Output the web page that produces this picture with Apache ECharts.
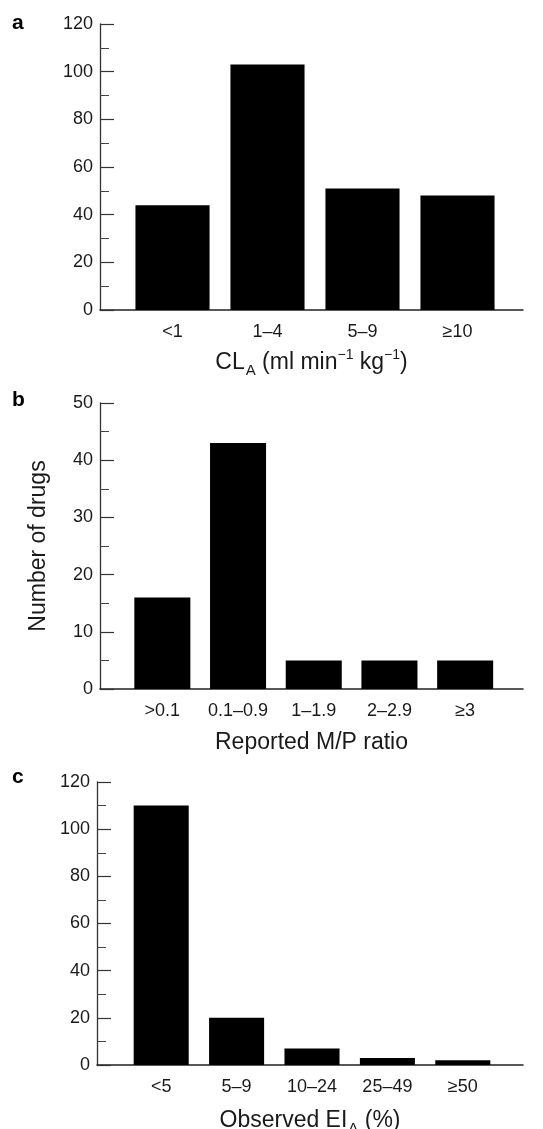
<!DOCTYPE html>
<html lang="en">
<head>
<meta charset="UTF-8">
<title>Number of drugs</title>
<script src="https://cdn.jsdelivr.net/npm/echarts@6/dist/echarts.min.js"></script>
<style>
  html, body { margin: 0; padding: 0; background: #fff; }
  #main { width: 543px; height: 1129px; }
</style>
</head>
<body>
<div id="main"></div>
<script>
// panel a: clearance
const catsA = ['<1', '1–4', '5–9', '≥10'];
const valsA = [44, 103, 51, 48];
// panel b: M/P ratio
const catsB = ['>0.1', '0.1–0.9', '1–1.9', '2–2.9', '≥3'];
const valsB = [16, 43, 5, 5, 5];
// panel c: exposure index
const catsC = ['<5', '5–9', '10–24', '25–49', '≥50'];
const valsC = [110, 20, 7, 3, 2];

const FONT = '"Liberation Sans", Arial, sans-serif';
const INK = '#1a1a1a';

// layout of each panel
const panels = [
  { cats: catsA, vals: valsA, max: 120, step: 20, top: 24, h: 286, frameLeft: 100, barLeft: 125, barW: 380, gap: '22%',
    title: '{t|CL}{s|A}{t| (ml min}{p|−1}{t| kg}{p|−1}{t|)}', titleGap: 38, letter: 'a', ly: 13 },
  { cats: catsB, vals: valsB, max: 50, step: 10, top: 403, h: 286, frameLeft: 100, barLeft: 124.5, barW: 378.5, gap: '26%',
    title: '{t|Reported M/P ratio}', titleGap: 39, letter: 'b', ly: 390, yName: 'Number of drugs' },
  { cats: catsC, vals: valsC, max: 120, step: 20, top: 782, h: 283, frameLeft: 97, barLeft: 123.5, barW: 377, gap: '27%',
    title: '{t|Observed EI}{s|A}{t| (%)}', titleGap: 41, letter: 'c', ly: 767 }
];

const rich = {
  t: { fontSize: 23, fontFamily: FONT, color: INK, lineHeight: 30, verticalAlign: 'middle' },
  s: { fontSize: 15, fontFamily: FONT, color: INK, verticalAlign: 'bottom', lineHeight: 30, padding: [0, 0, 0, 1] },
  p: { fontSize: 14, fontFamily: FONT, color: INK, verticalAlign: 'top', lineHeight: 24 }
};

const grid = [], xAxis = [], yAxis = [], series = [], graphic = [];

panels.forEach((p, i) => {
  const gf = i * 2, gb = i * 2 + 1;
  grid.push({ left: p.frameLeft, top: p.top, width: 523 - p.frameLeft, height: p.h, outerBoundsMode: 'none' });
  grid.push({ left: p.barLeft, top: p.top, width: p.barW, height: p.h, outerBoundsMode: 'none' });

  xAxis.push({
    gridIndex: gf, type: 'value', min: 0, max: 1,
    axisLine: { show: true, lineStyle: { color: '#222', width: 1.5 } },
    axisTick: { show: false }, axisLabel: { show: false }, splitLine: { show: false },
    name: p.title, nameLocation: 'middle', nameGap: p.titleGap,
    nameTextStyle: { rich: rich }
  });
  xAxis.push({
    gridIndex: gb, type: 'category', data: p.cats,
    axisLine: { show: false }, axisTick: { show: false },
    axisLabel: { interval: 0, hideOverlap: false, fontSize: 18, fontFamily: FONT, color: INK, margin: 13 }
  });

  yAxis.push({
    gridIndex: gf, type: 'value', min: 0, max: p.max, interval: p.step,
    axisLine: { show: true, lineStyle: { color: '#333', width: 1.3 } },
    axisTick: { show: true, inside: true, length: 14, lineStyle: { color: '#333', width: 1.2 } },
    minorTick: { show: true, splitNumber: 2, length: 9, lineStyle: { color: '#444', width: 1 } },
    axisLabel: { fontSize: 18, fontFamily: FONT, color: INK, margin: 7 },
    splitLine: { show: false },
    name: p.yName || '', nameLocation: 'middle', nameGap: 50, nameRotate: 90,
    nameTextStyle: { fontSize: 23, fontFamily: FONT, color: INK }
  });
  yAxis.push({ gridIndex: gb, type: 'value', min: 0, max: p.max, show: false });

  series.push({
    type: 'bar', xAxisIndex: gb, yAxisIndex: gb, data: p.vals,
    barCategoryGap: p.gap, itemStyle: { color: '#000' }, silent: true
  });

  graphic.push({
    type: 'text', left: 12, top: p.ly,
    style: { text: p.letter, font: 'bold 21px ' + FONT, fill: '#000' }
  });
});

const chart = echarts.init(document.getElementById('main'));
chart.setOption({
  animation: false,
  grid: grid,
  xAxis: xAxis,
  yAxis: yAxis,
  series: series,
  graphic: graphic
});
</script>
</body>
</html>
